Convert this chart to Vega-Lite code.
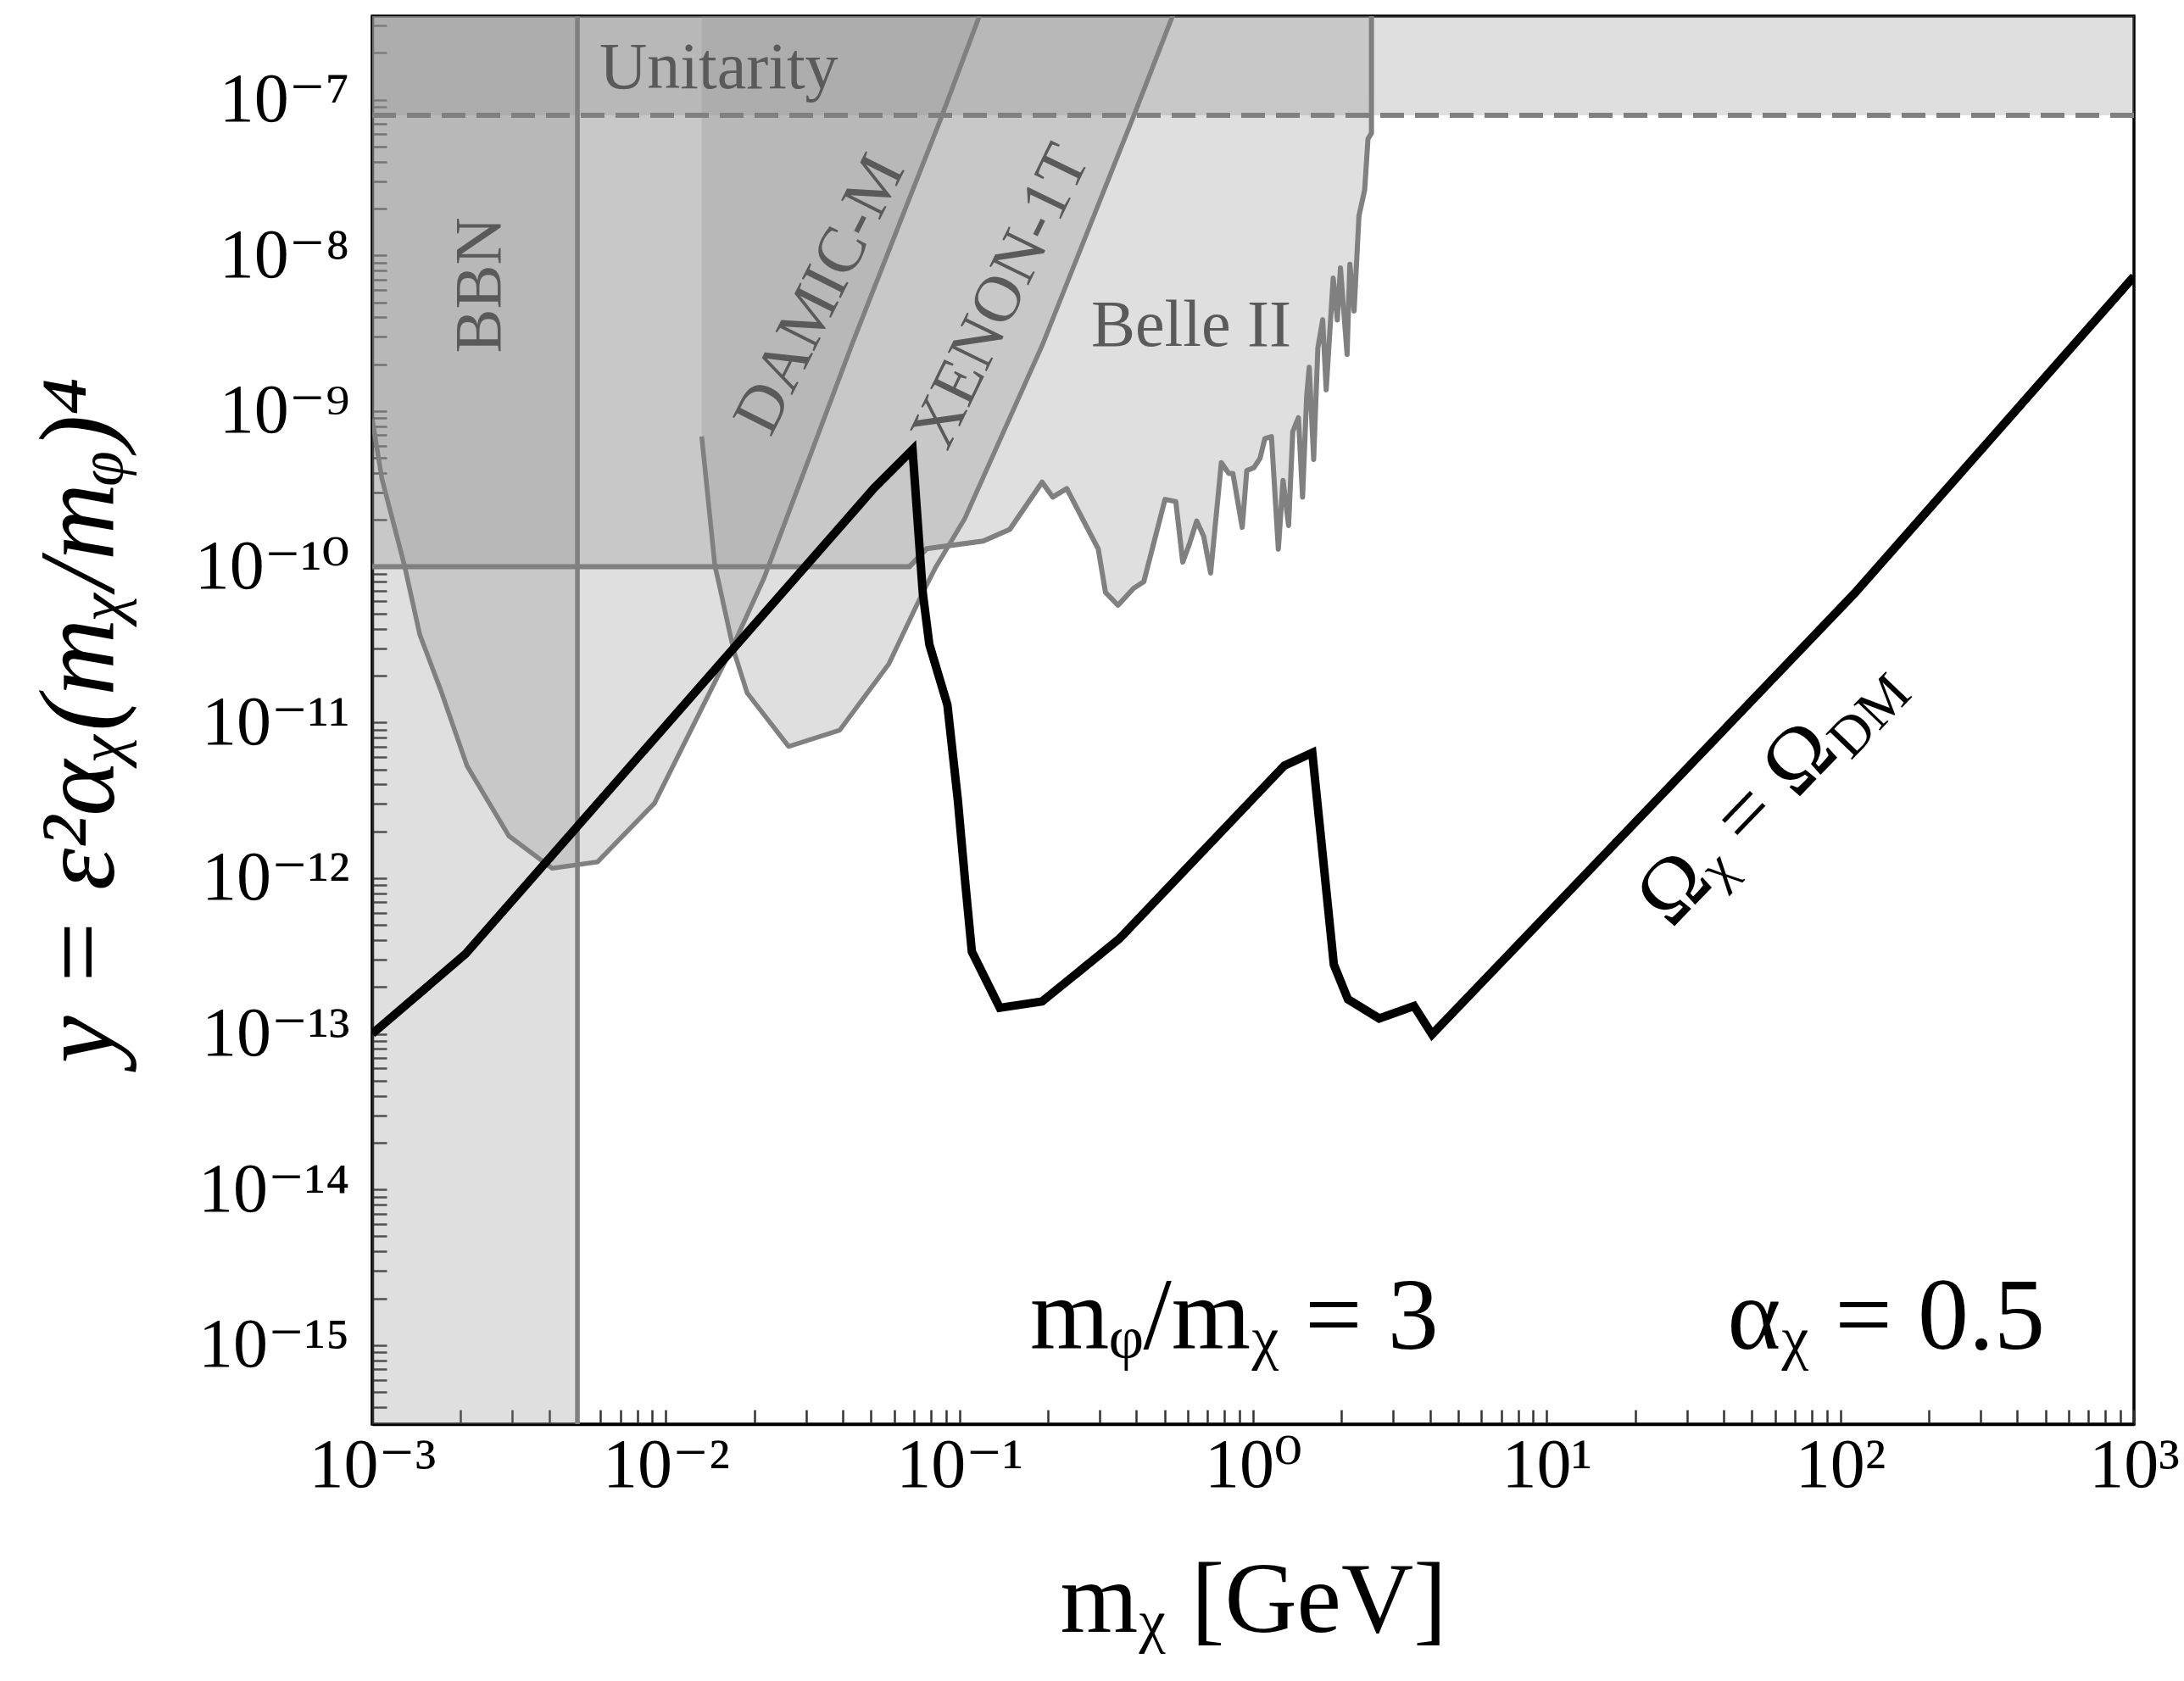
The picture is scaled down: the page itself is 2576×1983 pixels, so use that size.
{
  "$schema": "https://vega.github.io/schema/vega-lite/v6.json",
  "width": 2078,
  "height": 1661,
  "autosize": {"type": "none"},
  "padding": {"left": 439, "top": 19, "right": 59, "bottom": 303},
  "background": "white",
  "config": {
    "view": {"stroke": "black", "strokeWidth": 3.5},
    "font": "Liberation Serif",
    "axis": {
      "grid": false,
      "domain": true,
      "domainColor": "black",
      "domainWidth": 3.5,
      "tickSize": -17,
      "tickWidth": 2.5,
      "tickColor": "#333333",
      "labelFont": "Liberation Serif, DejaVu Serif",
      "labelFontSize": 82,
      "labelColor": "black",
      "labelLimit": 0,
      "labelOverlap": false,
      "labelFlush": false,
      "labelBound": false,
      "titleFont": "Liberation Serif, DejaVu Serif",
      "titleFontWeight": "normal",
      "titleColor": "black",
      "titleLimit": 0,
      "zindex": 1
    }
  },
  "datasets": {
    "black": [{"m":0.001,"y":1e-13},{"m":0.00208,"y":3.26e-13},{"m":0.05098,"y":3.173e-10},{"m":0.06922,"y":5.649e-10},{"m":0.07499,"y":6.823e-11},{"m":0.07894,"y":3.177e-11},{"m":0.09097,"y":1.297e-11},{"m":0.09874,"y":3.17e-12},{"m":0.1043,"y":1e-12},{"m":0.1102,"y":3.373e-13},{"m":0.1372,"y":1.469e-13},{"m":0.1912,"y":1.614e-13},{"m":0.3505,"y":4.083e-13},{"m":1.278,"y":5.284e-12},{"m":1.591,"y":6.397e-12},{"m":1.884,"y":2.78e-13},{"m":2.104,"y":1.667e-13},{"m":2.687,"y":1.256e-13},{"m":3.532,"y":1.51e-13},{"m":4.07,"y":9.908e-14},{"m":111.9,"y":6.761e-11},{"m":1000,"y":7.328e-9}],
    "belle": [{"m":0.001,"y":1e-10},{"m":0.06751,"y":1e-10},{"m":0.07727,"y":1.306e-10},{"m":0.1205,"y":1.462e-10},{"m":0.1484,"y":1.738e-10},{"m":0.1912,"y":3.499e-10},{"m":0.2077,"y":2.805e-10},{"m":0.232,"y":3.177e-10},{"m":0.297,"y":1.3e-10},{"m":0.3142,"y":6.855e-11},{"m":0.3467,"y":5.662e-11},{"m":0.3918,"y":7.278e-11},{"m":0.4244,"y":8.017e-11},{"m":0.5014,"y":2.71e-10},{"m":0.5455,"y":2.624e-10},{"m":0.5761,"y":1.072e-10},{"m":0.6084,"y":1.419e-10},{"m":0.6426,"y":1.968e-10},{"m":0.6785,"y":1.574e-10},{"m":0.7168,"y":9.12e-11},{"m":0.7796,"y":4.667e-10},{"m":0.826,"y":3.981e-10},{"m":0.8535,"y":3.981e-10},{"m":0.9183,"y":1.791e-10},{"m":0.9519,"y":4.15e-10},{"m":1.0055,"y":4.325e-10},{"m":1.056,"y":4.977e-10},{"m":1.097,"y":6.668e-10},{"m":1.155,"y":6.855e-10},{"m":1.219,"y":1.297e-10},{"m":1.265,"y":3.589e-10},{"m":1.321,"y":1.841e-10},{"m":1.365,"y":7.396e-10},{"m":1.427,"y":9.078e-10},{"m":1.474,"y":2.805e-10},{"m":1.522,"y":1.239e-9},{"m":1.553,"y":1.91e-9},{"m":1.608,"y":4.898e-10},{"m":1.662,"y":2.547e-9},{"m":1.726,"y":3.864e-9},{"m":1.774,"y":1.371e-9},{"m":1.874,"y":7.145e-9},{"m":1.936,"y":3.846e-9},{"m":1.984,"y":8.318e-9},{"m":2.09,"y":2.312e-9},{"m":2.136,"y":8.77e-9},{"m":2.208,"y":4.395e-9},{"m":2.294,"y":1.795e-8},{"m":2.399,"y":2.636e-8},{"m":2.462,"y":5.61e-8},{"m":2.53,"y":6.095e-8},{"m":2.531,"y":1e-6}],
    "damic": [{"m":0.001,"y":8.913e-10},{"m":0.001079,"y":3.681e-10},{"m":0.00129,"y":1.007e-10},{"m":0.001452,"y":3.673e-11},{"m":0.00171,"y":1.622e-11},{"m":0.002104,"y":5.248e-12},{"m":0.002917,"y":1.871e-12},{"m":0.004102,"y":1.156e-12},{"m":0.005854,"y":1.271e-12},{"m":0.009141,"y":3.02e-12},{"m":0.01703,"y":3.177e-11},{"m":0.02154,"y":8.356e-11},{"m":0.04329,"y":2.754e-9},{"m":0.0869,"y":7.78e-8},{"m":0.1169,"y":3.443e-7},{"m":0.1413,"y":8.851e-7}],
    "xenon": [{"m":0.01325,"y":6.871e-10},{"m":0.0147,"y":1.007e-10},{"m":0.01514,"y":7.925e-11},{"m":0.01703,"y":2.891e-11},{"m":0.01892,"y":1.549e-11},{"m":0.02619,"y":7.015e-12},{"m":0.0391,"y":8.913e-12},{"m":0.0575,"y":2.382e-11},{"m":0.07411,"y":6.531e-11},{"m":0.08318,"y":1e-10},{"m":0.1042,"y":2.037e-10},{"m":0.1912,"y":2.636e-9},{"m":0.3917,"y":7.834e-8},{"m":0.5313,"y":3.436e-7},{"m":0.631,"y":7.943e-7}]
  },
  "encoding": {
    "x": {
      "field": "m",
      "type": "quantitative",
      "scale": {"type": "log", "domain": [0.001, 1000], "nice": false},
      "axis": {
        "title": "mᵪ [GeV]",
        "titleFontSize": 118,
        "titlePadding": 62,
        "labelPadding": 25,
        "values": [0.001,0.002,0.003,0.004,0.005,0.006,0.007,0.008,0.009,0.01,0.02,0.03,0.04,0.05,0.06,0.07,0.08,0.09,0.1,0.2,0.3,0.4,0.5,0.6,0.7,0.8,0.9,1,2,3,4,5,6,7,8,9,10,20,30,40,50,60,70,80,90,100,200,300,400,500,600,700,800,900,1000],
        "labelExpr": "abs(log(datum.value)/LN10 - round(log(datum.value)/LN10)) < 0.01 ? '10' + ['⁻³','⁻²','⁻¹','⁰','¹','²','³'][round(log(datum.value)/LN10) + 3] : ''"
      }
    },
    "y": {
      "field": "y",
      "type": "quantitative",
      "scale": {"type": "log", "domain": [3.11e-16, 3.445e-7], "nice": false},
      "axis": {
        "title": "y = ε²αᵪ(mᵪ/mᵩ)⁴",
        "titleFontSize": 126,
        "titleFontStyle": "italic",
        "titlePadding": 80,
        "labelPadding": 44,
        "values": [4e-16,5e-16,6e-16,7e-16,8e-16,9e-16,1e-15,2e-15,3e-15,4e-15,5e-15,6e-15,7e-15,8e-15,9e-15,1e-14,2e-14,3e-14,4e-14,5e-14,6e-14,7e-14,8e-14,9e-14,1e-13,2e-13,3e-13,4e-13,5e-13,6e-13,7e-13,8e-13,9e-13,1e-12,2e-12,3e-12,4e-12,5e-12,6e-12,7e-12,8e-12,9e-12,1e-11,2e-11,3e-11,4e-11,5e-11,6e-11,7e-11,8e-11,9e-11,1e-10,2e-10,3e-10,4e-10,5e-10,6e-10,7e-10,8e-10,9e-10,1e-9,2e-9,3e-9,4e-9,5e-9,6e-9,7e-9,8e-9,9e-9,1e-8,2e-8,3e-8,4e-8,5e-8,6e-8,7e-8,8e-8,9e-8,1e-7,2e-7,3e-7],
        "labelExpr": "abs(log(datum.value)/LN10 - round(log(datum.value)/LN10)) < 0.01 ? '10' + ['⁻¹⁵','⁻¹⁴','⁻¹³','⁻¹²','⁻¹¹','⁻¹⁰','⁻⁹','⁻⁸','⁻⁷'][round(log(datum.value)/LN10) + 15] : ''"
      }
    }
  },
  "layer": [
    {
      "data": {"values": [{"m":0.001,"y":1e-17},{"m":0.005,"y":1e-17}]},
      "mark": {"type": "area", "fill": "#969696", "fillOpacity": 0.3, "clip": true},
      "encoding": {"y2": {"datum": 1e-6}}
    },
    {
      "data": {"values": [{"m":0.001,"y":7.94e-8},{"m":1000,"y":7.94e-8}]},
      "mark": {"type": "area", "fill": "#969696", "fillOpacity": 0.3, "clip": true},
      "encoding": {"y2": {"datum": 1e-6}}
    },
    {
      "data": {"name": "belle"},
      "mark": {"type": "area", "fill": "#969696", "fillOpacity": 0.3, "clip": true},
      "encoding": {"y2": {"datum": 1e-6}}
    },
    {
      "data": {"name": "damic"},
      "mark": {"type": "area", "fill": "#969696", "fillOpacity": 0.3, "clip": true},
      "encoding": {"y2": {"datum": 1e-6}}
    },
    {
      "data": {"name": "xenon"},
      "mark": {"type": "area", "fill": "#969696", "fillOpacity": 0.3, "clip": true},
      "encoding": {"y2": {"datum": 1e-6}}
    },
    {
      "data": {"name": "belle"},
      "mark": {"type": "line", "color": "#808080", "strokeWidth": 6, "strokeJoin": "round", "clip": true},
      "encoding": {}
    },
    {
      "data": {"name": "damic"},
      "mark": {"type": "line", "color": "#808080", "strokeWidth": 5.5, "strokeJoin": "round", "clip": true},
      "encoding": {}
    },
    {
      "data": {"name": "xenon"},
      "mark": {"type": "line", "color": "#808080", "strokeWidth": 5.5, "strokeJoin": "round", "clip": true},
      "encoding": {}
    },
    {
      "data": {"values": [{"m":0.005,"y":1e-17},{"m":0.005,"y":1e-6}]},
      "mark": {"type": "line", "color": "#808080", "strokeWidth": 5.5, "clip": true},
      "encoding": {}
    },
    {
      "data": {"values": [{"m":0.001,"y":7.94e-8},{"m":1000,"y":7.94e-8}]},
      "mark": {"type": "line", "color": "#808080", "strokeWidth": 6, "strokeDash": [28, 13], "clip": true},
      "encoding": {}
    },
    {
      "data": {"name": "black"},
      "mark": {"type": "line", "color": "black", "strokeWidth": 10, "strokeJoin": "miter", "clip": true},
      "encoding": {}
    },
    {
      "data": {"values": [{"m":0.00594,"y":1.186e-7,"t":"Unitarity"},{"m":0.2808,"y":2.62e-9,"t":"Belle II"}]},
      "mark": {"type": "text", "font": "Liberation Serif", "fontSize": 78, "color": "#5a5a5a", "align": "left", "baseline": "alphabetic"},
      "encoding": {"text": {"field": "t"}}
    },
    {
      "data": {"values": [{"m":0.00234,"y":6.44e-9,"t":"BBN"}]},
      "mark": {"type": "text", "font": "Liberation Serif", "fontSize": 78, "color": "#5a5a5a", "align": "center", "baseline": "middle", "angle": 270},
      "encoding": {"text": {"field": "t"}}
    },
    {
      "data": {"values": [{"m":0.03363,"y":5.58e-9,"t":"DAMIC-M"}]},
      "mark": {"type": "text", "font": "Liberation Serif", "fontSize": 78, "color": "#5a5a5a", "align": "center", "baseline": "middle", "angle": 296.6},
      "encoding": {"text": {"field": "t"}}
    },
    {
      "data": {"values": [{"m":0.1387,"y":5.43e-9,"t":"XENON-1T"}]},
      "mark": {"type": "text", "font": "Liberation Serif", "fontSize": 78, "color": "#5a5a5a", "align": "center", "baseline": "middle", "angle": 295.9},
      "encoding": {"text": {"field": "t"}}
    },
    {
      "data": {"values": [{"m":100.5,"y":6.3e-12,"t":"Ωᵪ = Ω"}]},
      "mark": {"type": "text", "font": "Liberation Serif", "fontSize": 102, "color": "black", "align": "right", "baseline": "alphabetic", "angle": 314},
      "encoding": {"text": {"field": "t"}}
    },
    {
      "data": {"values": [{"m":100.5,"y":6.3e-12,"t":"DM"}]},
      "mark": {"type": "text", "font": "Liberation Serif", "fontSize": 66, "color": "black", "align": "left", "baseline": "alphabetic", "angle": 314, "dx": 2, "dy": 14},
      "encoding": {"text": {"field": "t"}}
    },
    {
      "data": {"values": [{"m":0.863,"y":9.47e-16,"t":"mᵩ/mᵪ = 3"},{"m":143.2,"y":9.47e-16,"t":"αᵪ = 0.5"}]},
      "mark": {"type": "text", "font": "Liberation Serif", "fontSize": 120, "color": "black", "align": "center", "baseline": "alphabetic"},
      "encoding": {"text": {"field": "t"}}
    }
  ]
}
